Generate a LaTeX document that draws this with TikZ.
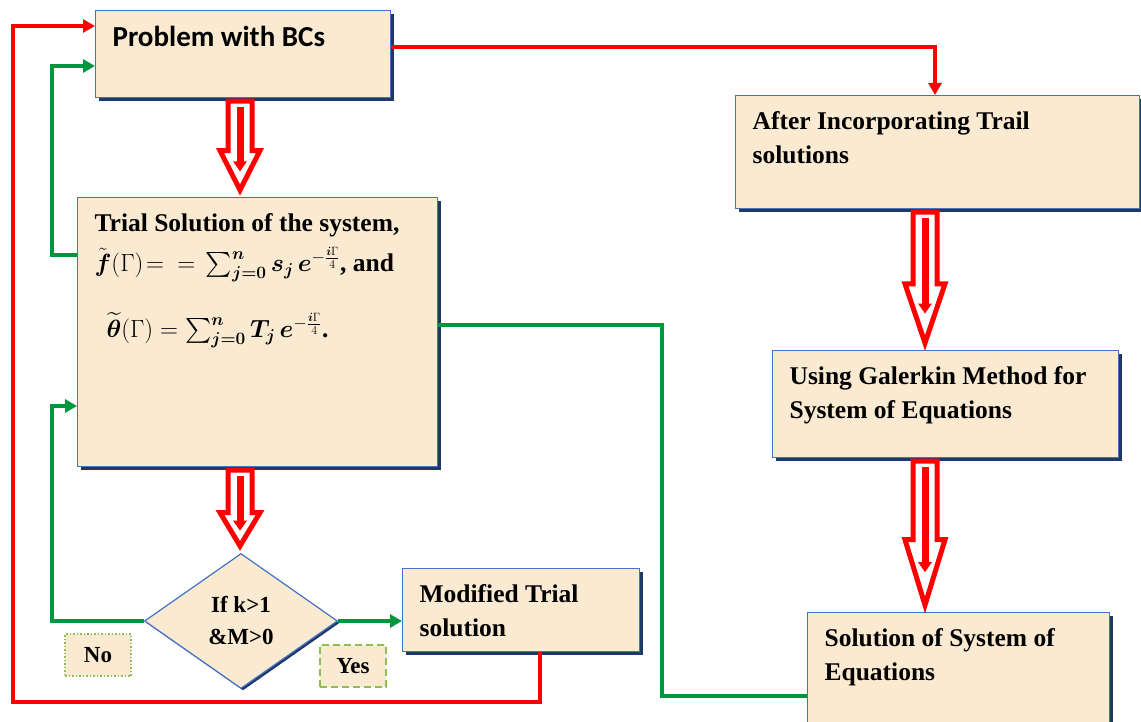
\documentclass[tikz,border=0pt]{standalone}
\usepackage{fontspec}
\setmainfont{Liberation Serif}
\newfontfamily\calibfont{Carlito}
\usepackage{amsmath}
\usetikzlibrary{shapes.geometric,arrows.meta,calc,shadows}

\definecolor{parch}{RGB}{251,234,210}
\definecolor{boxblue}{RGB}{68,114,196}
\definecolor{shadowblue}{RGB}{31,56,100}
\definecolor{lnred}{RGB}{255,0,0}
\definecolor{lngreen}{RGB}{0,150,62}
\definecolor{taggreen}{RGB}{140,190,80}

\newcommand{\boxfont}{\bfseries\fontsize{25.5}{34}\selectfont}
\newcommand{\boxtxt}[3]{\parbox[t][#2][t]{#1}{\raggedright #3}}

% block arrow: column coordinate, upper node, lower node
\newcommand{\fatarrow}[3]{%
  \coordinate (fa1) at (#1 |- #2.south);
  \coordinate (fa2) at (#1 |- #3.north);
  \coordinate (fa3) at ($(fa1)!0.53!(fa2)$);
  \draw[fatline] ($(fa1)+(-12,3)$) -- ($(fa3)+(-12,0)$) -- ($(fa3)+(-20,0)$)
    -- ($(fa2)+(0,-7)$) -- ($(fa3)+(20,0)$) -- ($(fa3)+(12,0)$) -- ($(fa1)+(12,3)$) -- cycle;
  \draw[fatcore] ($(fa1)+(0,9)$) -- ($(fa3)!0.45!(fa2)$);
}

\tikzset{
  procbox/.style={draw=boxblue, line width=1.2pt, fill=parch, anchor=north west,
    inner xsep=17pt, inner ysep=16pt, font=\boxfont,
    drop shadow={shadow xshift=3pt, shadow yshift=-3pt, fill=shadowblue, opacity=1}},
  decision/.style={diamond, draw=boxblue, line width=1.2pt, fill=parch, inner sep=0pt,
    minimum width=193pt, minimum height=135pt, align=center,
    font=\bfseries\fontsize{23}{32}\selectfont,
    drop shadow={shadow xshift=2pt, shadow yshift=-2pt, fill=shadowblue, opacity=1}},
  tagno/.style={draw=taggreen, line width=1.2pt, fill=parch,
    minimum width=66pt, minimum height=42pt, inner sep=0pt,
    font=\bfseries\fontsize{23}{28}\selectfont},
  redline/.style={draw=lnred, line width=3.5pt},
  greenline/.style={draw=lngreen, line width=3.5pt},
  tip/.style={-{Triangle[length=12pt,width=13pt]}},
  fatline/.style={draw=lnred, line width=5pt, fill=white, line join=miter},
  fatcore/.style={draw=lnred, line width=7pt, -{Triangle[length=10pt,width=13pt]}}
}

\begin{document}
\begin{tikzpicture}[x=1pt,y=-1pt]
\useasboundingbox (0,0) rectangle (1141,722);

% boxes
\node[procbox, font=\calibfont\bfseries\fontsize{29}{34}\selectfont] (prob) at (95,10)
  {\boxtxt{261pt}{55pt}{Problem with BCs}};
\node[procbox] (trial) at (77,197)
  {\boxtxt{326pt}{237pt}{Trial Solution of the system,\\[6pt]
   $\tilde{\boldsymbol{f}}(\Gamma)\!=\ {=}\ \sum_{\boldsymbol{j=0}}^{\boldsymbol{n}} \boldsymbol{s_j}\, \boldsymbol{e}^{-\frac{\boldsymbol{i}\Gamma}{4}}$, and\\[30pt]
   \hspace*{12pt}$\widetilde{\boldsymbol{\theta}}(\Gamma) = \sum_{\boldsymbol{j=0}}^{\boldsymbol{n}} \boldsymbol{T_j}\, \boldsymbol{e}^{-\frac{\boldsymbol{i}\Gamma}{4}}$.}};
\node[decision] (cond) at (241,621) {If k>1\\\&M>0};
\node[procbox] (mod) at (402,568) {\boxtxt{203pt}{51pt}{Modified Trial\\solution}};
\node[procbox] (after) at (735,95) {\boxtxt{370pt}{81pt}{After Incorporating Trail\\solutions}};
\node[procbox] (galer) at (772,350) {\boxtxt{312pt}{75pt}{Using Galerkin Method for\\System of Equations}};
\node[procbox] (sol) at (807,612) {\boxtxt{268pt}{88pt}{Solution of System of\\Equations}};

\node[tagno, dash pattern=on 1.5pt off 2pt] (no) at (98,655) {No};
\node[tagno, dash pattern=on 7pt off 4pt] (yes) at (353,666) {Yes};

% turning points
\coordinate (colL) at (240,0);
\coordinate (colR) at (925,0);
\coordinate (r1) at (935,47);
\coordinate (r2) at (540,702);
\coordinate (r3) at (13,26);
\coordinate (g1) at (52,255);
\coordinate (g2) at (52,66);
\coordinate (g3) at (52,406);
\coordinate (g4) at (662,325);
\coordinate (g5) at (662,696);

% block arrows
\fatarrow{colL}{prob}{trial}
\fatarrow{colL}{trial}{cond}
\fatarrow{colR}{after}{galer}
\fatarrow{colR}{galer}{sol}

% red connectors
\draw[redline, tip] (prob.east |- r1) -- (r1) -- (after.north -| r1);
\draw[redline, tip] (mod.south -| r2) -- (r2) -- (r2 -| r3) -- (r3) -- (prob.west |- r3);

% green connectors
\draw[greenline, tip] (trial.west |- g1) -- (g1) -- (g2) -- (prob.west |- g2);
\draw[greenline, tip] (cond.west) -- (cond.west -| g3) -- (g3) -- (trial.west |- g3);
\draw[greenline, tip] (cond.east) -- (mod.west |- cond.east);
\draw[greenline] (trial.east |- g4) -- (g4) -- (g5) -- (sol.west |- g5);

\end{tikzpicture}
\end{document}
